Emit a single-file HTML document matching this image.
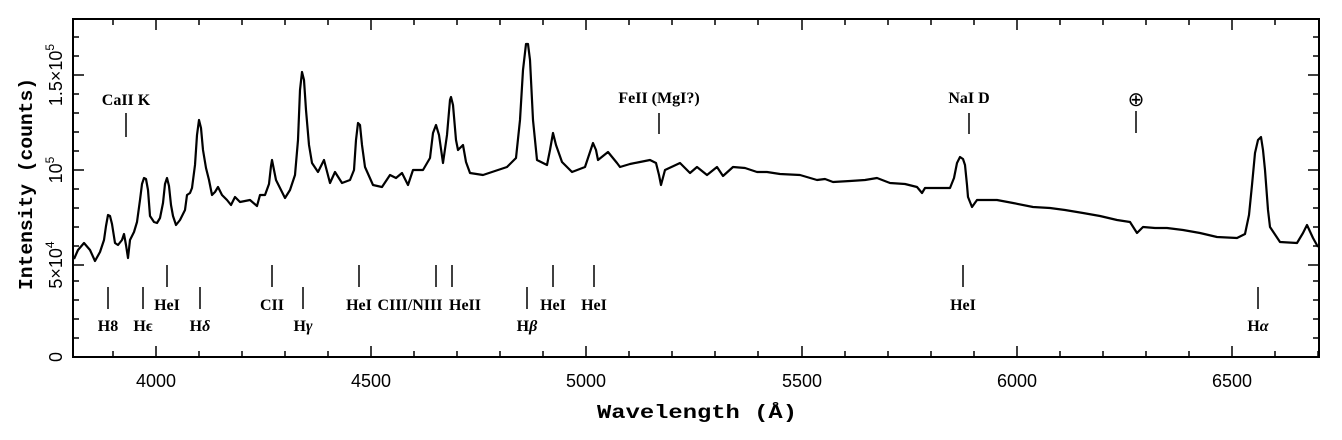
<!DOCTYPE html>
<html><head><meta charset="utf-8"><style>body{margin:0;background:#fff}svg{display:block}</style></head><body>
<svg width="1342" height="440" viewBox="0 0 1342 440" xmlns="http://www.w3.org/2000/svg">
<rect x="0" y="0" width="1342" height="440" fill="#fff"/>
<g stroke="#000" stroke-width="2" fill="none">
<rect x="73" y="19" width="1246" height="338"/>
</g>
<g stroke="#000" stroke-width="1.5">
<path d="M156 357v-11M371 357v-11M586 357v-11M802 357v-11M1017 357v-11M1232 357v-11M156 19v11M371 19v11M586 19v11M802 19v11M1017 19v11M1232 19v11"/>
<path d="M113 357v-6M199 357v-6M242 357v-6M285 357v-6M328 357v-6M414 357v-6M457 357v-6M500 357v-6M543 357v-6M629 357v-6M672 357v-6M715 357v-6M758 357v-6M845 357v-6M888 357v-6M931 357v-6M974 357v-6M1060 357v-6M1103 357v-6M1146 357v-6M1189 357v-6M1275 357v-6M1318 357v-6
M113 19v6M199 19v6M242 19v6M285 19v6M328 19v6M414 19v6M457 19v6M500 19v6M543 19v6M629 19v6M672 19v6M715 19v6M758 19v6M845 19v6M888 19v6M931 19v6M974 19v6M1060 19v6M1103 19v6M1146 19v6M1189 19v6M1275 19v6"/>
<path d="M73 265h11M73 170h11M73 75h11M1319 265h-11M1319 170h-11M1319 75h-11"/>
<path d="M73 338h6M73 319h6M73 300h6M73 281h6M73 246h6M73 227h6M73 208h6M73 189h6M73 151h6M73 132h6M73 113h6M73 94h6M73 56h6M73 37h6
M1319 338h-6M1319 319h-6M1319 300h-6M1319 281h-6M1319 246h-6M1319 227h-6M1319 208h-6M1319 189h-6M1319 151h-6M1319 132h-6M1319 113h-6M1319 94h-6M1319 56h-6M1319 37h-6"/>
<path d="M126 113v24M659 113v21M969 113v21M1136 111v22"/>
<path d="M167 265v22M272 265v22M359 265v22M436 265v22M452 265v22M553 265v22M594 265v22M963 265v22"/>
<path d="M108 287v22M143 287v22M200 287v22M303 287v22M527 287v22M1258 287v22"/>
</g>
<polyline fill="none" stroke="#000" stroke-width="2.2" stroke-linejoin="round" points="
74,259 78,250 84,243 90,250 95,261 100,252 104,240 106,226 108,215 110,216 112,224 115,243 118,245 122,240 124,234 126,245 128,258 130,240 134,232 137,222 140,200 142,184 144,178 146,179 148,190 150,216 154,222 157,223 160,218 163,203 165,184 167,178 169,186 171,205 173,216 176,225 180,220 185,210 187,195 190,193 192,188 195,165 197,135 199,120 201,128 203,150 206,168 209,180 212,195 215,192 218,187 222,195 227,200 231,205 235,197 240,202 245,201 250,200 257,206 260,195 265,195 269,184 271,166 272,160 274,170 276,180 285,198 290,190 295,175 298,140 300,90 302,72 304,80 306,110 309,145 312,163 318,172 324,160 330,183 335,172 342,183 350,180 354,170 356,140 358,123 360,125 362,145 365,167 373,185 382,187 390,175 396,178 402,173 408,185 413,170 423,170 430,158 433,133 436,125 439,135 443,163 447,135 450,100 451,97 453,105 456,140 458,150 463,145 466,162 470,173 483,175 507,167 516,158 520,120 523,70 526,44 528,44 530,60 533,120 537,160 547,165 550,150 553,133 556,145 562,162 572,172 585,167 590,152 593,143 596,150 598,160 608,152 617,163 620,167 630,164 640,162 650,160 656,163 659,175 661,185 665,170 680,163 690,173 697,167 707,175 717,167 723,176 733,167 745,168 757,172 767,172 780,174 800,175 817,180 825,179 833,182 850,181 865,180 877,178 890,183 905,184 917,187 922,193 925,188 940,188 950,188 954,178 957,163 960,157 963,159 965,165 967,185 968,197 972,207 977,200 997,200 1013,203 1033,207 1050,208 1065,210 1083,213 1100,216 1117,220 1130,222 1137,233 1143,227 1155,228 1167,228 1183,230 1200,233 1217,237 1237,238 1245,234 1249,215 1252,185 1255,153 1258,140 1261,137 1263,150 1265,170 1268,210 1270,227 1280,242 1297,243 1303,233 1307,225 1313,238 1318,247"/>
<g font-family="Liberation Serif, serif" font-weight="bold" font-size="16" text-anchor="middle" fill="#000">
<text x="126" y="105">CaII K</text>
<text x="659" y="103">FeII (MgI?)</text>
<text x="969" y="103">NaI D</text>
<text x="1136" y="106" font-size="20" font-weight="normal">⊕</text>
<text x="167" y="310">HeI</text>
<text x="272" y="310">CII</text>
<text x="359" y="310">HeI</text>
<text x="410" y="310">CIII/NIII</text>
<text x="465" y="310">HeII</text>
<text x="553" y="310">HeI</text>
<text x="594" y="310">HeI</text>
<text x="963" y="310">HeI</text>
<text x="108" y="331">H8</text>
<text x="143" y="331">Hϵ</text>
<text x="200" y="331">H<tspan font-style="italic">δ</tspan></text>
<text x="303" y="331">H<tspan font-style="italic">γ</tspan></text>
<text x="527" y="331">H<tspan font-style="italic">β</tspan></text>
<text x="1258" y="331">H<tspan font-style="italic">α</tspan></text>
</g>
<g font-family="Liberation Sans, sans-serif" font-size="18" text-anchor="middle" fill="#000">
<text x="156" y="387">4000</text>
<text x="371" y="387">4500</text>
<text x="586" y="387">5000</text>
<text x="802" y="387">5500</text>
<text x="1017" y="387">6000</text>
<text x="1232" y="387">6500</text>
<text transform="translate(62,357) rotate(-90)">0</text>
<text transform="translate(62,265) rotate(-90)">5×10<tspan font-size="12" dy="-8">4</tspan></text>
<text transform="translate(62,170) rotate(-90)">10<tspan font-size="12" dy="-8">5</tspan></text>
<text transform="translate(62,75) rotate(-90)">1.5×10<tspan font-size="12" dy="-8">5</tspan></text>
</g>
<g font-family="Liberation Mono, monospace" font-size="19" font-weight="bold" fill="#000">
<text x="597" y="418" textLength="200" lengthAdjust="spacingAndGlyphs">Wavelength (Å)</text>
<text transform="translate(32,290) rotate(-90)" textLength="212" lengthAdjust="spacingAndGlyphs">Intensity (counts)</text>
</g>
</svg>
</body></html>
